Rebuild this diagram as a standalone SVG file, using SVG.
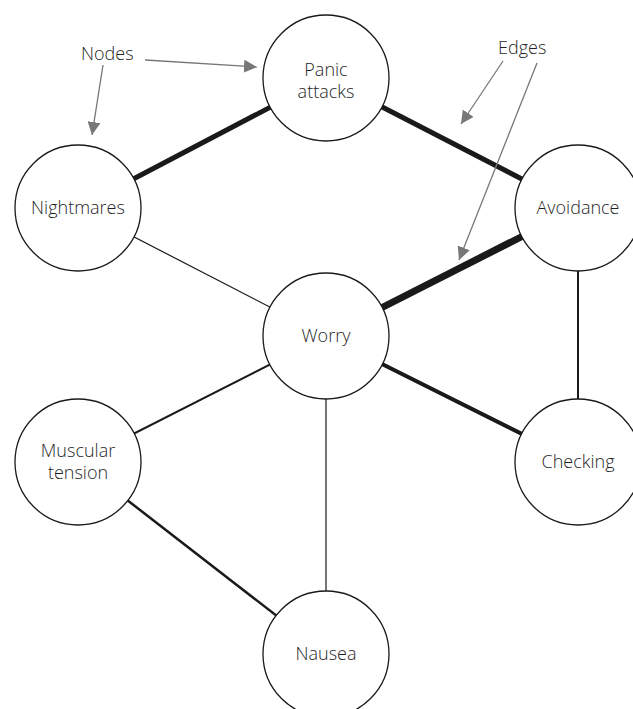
<svg xmlns="http://www.w3.org/2000/svg" width="633" height="709" viewBox="0 0 633 709">
<style>
.node{fill:#fff;stroke:#1a1a1a;stroke-width:1.3}
.lbl{font-family:"Open Sans","Noto Sans",sans-serif;font-weight:300;font-size:18px;fill:#1f1f1f;text-anchor:middle}
.ann{font-family:"Open Sans","Noto Sans",sans-serif;font-weight:300;font-size:18px;fill:#1f1f1f}
.e{stroke:#1a1a1a;fill:none}
.a{stroke:#777;stroke-width:1.3;fill:none;marker-end:url(#ah)}
</style>
<defs>
<marker id="ah" viewBox="0 0 10 10" refX="10" refY="5" markerWidth="13" markerHeight="13" markerUnits="userSpaceOnUse" orient="auto">
<path d="M0,0 L10,5 L0,10 z" fill="#777"/>
</marker>
</defs>
<rect width="633" height="709" fill="#fff"/>
<g id="edges">
<line class="e" x1="326" y1="78" x2="78" y2="208" stroke-width="5"/>
<line class="e" x1="326" y1="78" x2="578" y2="208" stroke-width="5"/>
<line class="e" x1="78" y1="208" x2="326" y2="336" stroke-width="1.2"/>
<line class="e" x1="578" y1="208" x2="326" y2="336" stroke-width="7"/>
<line class="e" x1="578" y1="208" x2="578" y2="462" stroke-width="2"/>
<line class="e" x1="326" y1="336" x2="578" y2="462" stroke-width="4"/>
<line class="e" x1="326" y1="336" x2="78" y2="462" stroke-width="2"/>
<line class="e" x1="326" y1="336" x2="326" y2="654" stroke-width="1.2"/>
<line class="e" x1="78" y1="462" x2="326" y2="654" stroke-width="2.5"/>
</g>
<g id="panic"><circle class="node" cx="326" cy="78" r="63"/><text class="lbl" x="326" y="76">Panic</text><text class="lbl" x="326" y="98">attacks</text></g>
<g id="nightmares"><circle class="node" cx="78" cy="208" r="63"/><text class="lbl" x="78" y="214">Nightmares</text></g>
<g id="avoidance"><circle class="node" cx="578" cy="208" r="63"/><text class="lbl" x="578" y="214">Avoidance</text></g>
<g id="worry"><circle class="node" cx="326" cy="336" r="63"/><text class="lbl" x="326" y="342">Worry</text></g>
<g id="muscular"><circle class="node" cx="78" cy="462" r="63"/><text class="lbl" x="78" y="457">Muscular</text><text class="lbl" x="78" y="479">tension</text></g>
<g id="checking"><circle class="node" cx="578" cy="462" r="63"/><text class="lbl" x="578" y="468">Checking</text></g>
<g id="nausea"><circle class="node" cx="326" cy="654" r="63"/><text class="lbl" x="326" y="660">Nausea</text></g>
<g id="annotations">
<text class="ann" x="81" y="60">Nodes</text>
<line class="a" x1="145" y1="60" x2="257" y2="67"/>
<line class="a" x1="103" y1="65" x2="92" y2="135"/>
<text class="ann" x="498" y="54">Edges</text>
<line class="a" x1="503" y1="61" x2="461" y2="124"/>
<line class="a" x1="537" y1="63" x2="459" y2="260"/>
</g>
</svg>
